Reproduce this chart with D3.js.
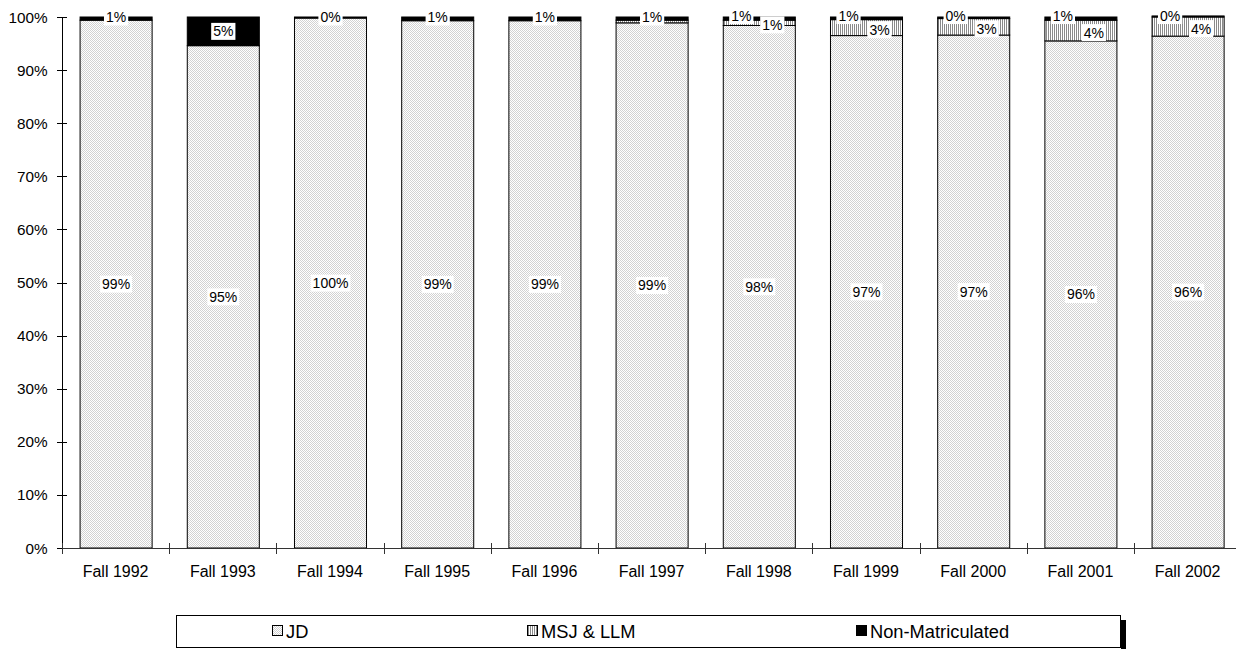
<!DOCTYPE html>
<html><head><meta charset="utf-8">
<script src="https://cdn.jsdelivr.net/npm/d3@7"></script>
<style>
body{margin:0;background:#fff;}
svg{display:block;font-family:"Liberation Sans",Arial,sans-serif;}
</style></head>
<body><svg id="chart" width="1236" height="649"></svg>
<script>
const categories = ["Fall 1992","Fall 1993","Fall 1994","Fall 1995","Fall 1996","Fall 1997","Fall 1998","Fall 1999","Fall 2000","Fall 2001","Fall 2002"];
const jd     = [99.4, 94.6, 99.8, 99.3, 99.3, 98.9, 98.4, 96.5, 96.6, 95.5, 96.4];
const msjllm = [0, 0, 0, 0, 0, 0.5, 1.0, 3.0, 3.1, 3.9, 3.6];
const nonMat = [0.6, 5.4, 0.2, 0.7, 0.7, 0.6, 0.6, 0.5, 0.3, 0.6, 0.2];
const seriesNames = ["JD","MSJ & LLM","Non-Matriculated"];
const yTicks = [0,10,20,30,40,50,60,70,80,90,100];

const svg = d3.select("#chart");
const defs = svg.append("defs");
const pj = defs.append("pattern").attr("id","pJD").attr("width",2).attr("height",2).attr("patternUnits","userSpaceOnUse");
pj.append("rect").attr("width",2).attr("height",2).attr("fill","#fff");
pj.append("rect").attr("x",0).attr("y",0).attr("width",1).attr("height",1).attr("fill","#d2d2d2");
pj.append("rect").attr("x",1).attr("y",1).attr("width",1).attr("height",1).attr("fill","#d2d2d2");
const pm = defs.append("pattern").attr("id","pMSJ").attr("width",2).attr("height",2).attr("patternUnits","userSpaceOnUse");
pm.append("rect").attr("width",2).attr("height",2).attr("fill","#fff");
pm.append("rect").attr("x",0).attr("width",1).attr("height",2).attr("fill","#8a8a8a");

const fills = ["url(#pJD)","url(#pMSJ)","#000"];

const left = 62, plotW = 107.2*11;
const x = d3.scaleBand().domain(categories).range([left, left+plotW]).paddingInner(0.328).paddingOuter(0.164);
const y = d3.scaleLinear().domain([0,100]).range([548,17]);

const rows = categories.map((c,i)=>({cat:c, JD:jd[i], MSJ:msjllm[i], NM:nonMat[i]}));
const stack = d3.stack().keys(["JD","MSJ","NM"])(rows);

// bars
stack.forEach((layer,k)=>{
  svg.append("g").selectAll("rect").data(layer).join("rect")
    .filter(d=>d[1]-d[0]>0)
    .attr("x",d=>x(d.data.cat)+0.5)
    .attr("width",x.bandwidth())
    .attr("y",d=>y(d[1]))
    .attr("height",d=>y(d[0])-y(d[1]))
    .attr("fill",fills[k])
    .attr("stroke","#000").attr("stroke-width",1);
});

// axes
const yAxis = svg.append("g").attr("transform",`translate(${left},0)`);
yAxis.append("line").attr("x1",0.5).attr("x2",0.5).attr("y1",y(100)).attr("y2",y(0)).attr("stroke","#000");
yAxis.selectAll("line.t").data(yTicks).join("line").attr("class","t")
  .attr("x1",-5).attr("x2",5).attr("y1",d=>Math.round(y(d))+0.5).attr("y2",d=>Math.round(y(d))+0.5).attr("stroke","#000");
yAxis.selectAll("text").data(yTicks).join("text")
  .attr("x",-14.5).attr("y",d=>y(d)).attr("dy","0.36em").attr("text-anchor","end")
  .attr("font-size",15.3).text(d=>d+"%");

const xAxis = svg.append("g");
xAxis.append("line").attr("x1",left).attr("x2",left+plotW).attr("y1",548.5).attr("y2",548.5).attr("stroke","#333");
xAxis.selectAll("line.t").data(categories.map((c,i)=>i)).join("line").attr("class","t")
  .attr("x1",i=>Math.round(x(categories[i]) - x.step()*0.164)+0.5)
  .attr("x2",i=>Math.round(x(categories[i]) - x.step()*0.164)+0.5)
  .attr("y1",543).attr("y2",554).attr("stroke","#333");
xAxis.selectAll("text").data(categories).join("text")
  .attr("x",d=>x(d)+x.bandwidth()/2).attr("y",577).attr("text-anchor","middle")
  .attr("font-size",16).text(d=>d);

// labels
function addLabel(cx, cy, txt){
  const g = svg.append("g");
  const t = g.append("text").attr("x",cx).attr("y",cy).attr("dy","0.36em").attr("text-anchor","middle").attr("font-size",14).text(txt);
  const bb = t.node().getBBox();
  g.insert("rect","text").attr("x",bb.x-2).attr("y",bb.y-0.5).attr("width",bb.width+4).attr("height",bb.height+1).attr("fill","#fff");
}
rows.forEach((r,i)=>{
  const cx = x(r.cat)+x.bandwidth()/2+0.5;
  const s0 = stack[0][i], s1 = stack[1][i], s2 = stack[2][i];
  addLabel(cx, y((s0[0]+s0[1])/2), Math.round(r.JD)+"%");
  const both = r.MSJ >= 0.8;
  if (both) addLabel(cx+13, y((s1[0]+s1[1])/2)+2, Math.round(r.MSJ)+"%");
  const nmH = y(s2[0]) - y(s2[1]);
  const nmY = nmH < 8 ? (both ? 15.5 : 17) : y((s2[0]+s2[1])/2);
  addLabel(both ? cx-18 : cx, nmY, Math.round(r.NM)+"%");
});

// legend
const lg = svg.append("g");
lg.append("rect").attr("x",1121).attr("y",620).attr("width",5).attr("height",40).attr("fill","#000");
lg.append("rect").attr("x",176.5).attr("y",615.5).attr("width",944).attr("height",32).attr("fill","#fff").attr("stroke","#000");
const legX = [272, 527, 856];
seriesNames.forEach((n,k)=>{
  lg.append("rect").attr("x",legX[k]+0.5).attr("y",625.5).attr("width",10).attr("height",10).attr("fill",fills[k]).attr("stroke","#000");
  lg.append("text").attr("x",legX[k]+14).attr("y",631).attr("dy","0.36em").attr("font-size",18.3).text(n);
});
</script></body></html>
